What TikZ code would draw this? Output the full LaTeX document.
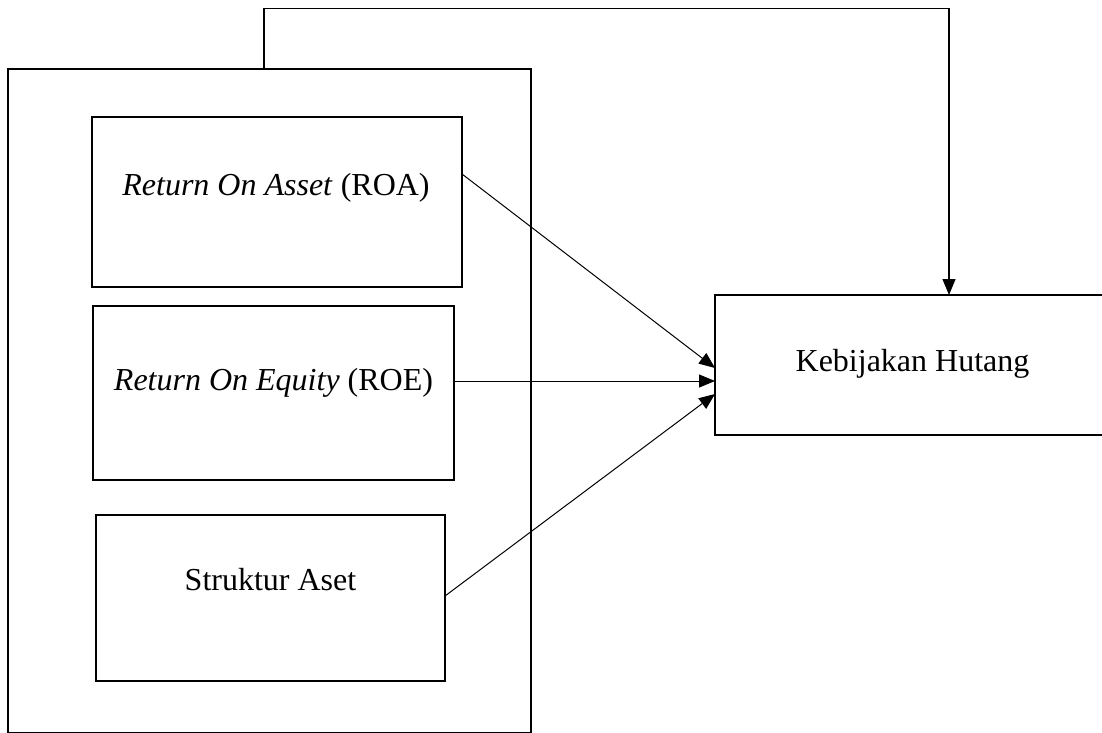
\documentclass[tikz,border=0pt]{standalone}
\usepackage{fontspec}
\setmainfont{Liberation Serif}
\usetikzlibrary{arrows.meta}

\begin{document}
\begin{tikzpicture}[x=1pt, y=-1pt, >={Triangle[length=16pt, width=13pt]}, line join=miter, every node/.style={font=\fontsize{32}{38}\selectfont}, box/.style={draw, rectangle, inner sep=0pt, outer sep=0pt}]
			
			\useasboundingbox (0,0) rectangle (1102,732);
			
			\node[box, line width=2.5pt, minimum width=523pt, minimum height=664pt] (outer) at (269.5,401) {};
			
			\node[box, line width=2pt, minimum width=370pt, minimum height=170pt] (roa) at (277,202) {};
			\node[anchor=base] (roatxt) at (276,195) {\textit{Return On Asset} (ROA)};
			
			\node[box, line width=2.6pt, minimum width=361pt, minimum height=174pt] (roe) at (273.5,393) {};
			\node[anchor=base] (roetxt) at (273.5,390) {\textit{Return On Equity} (ROE)};
			
			\node[box, line width=1.2pt, minimum width=349pt, minimum height=166pt] (aset) at (270.5,598) {};
			\node[anchor=base] (asettxt) at (270.5,590) {Struktur Aset};
			
			\node[box, line width=1.8pt, minimum width=395pt, minimum height=140pt] (kh) at (912.5,365) {};
			\node[anchor=base] (khtxt) at (912.5,371) {Kebijakan Hutang};
			
			\coordinate (top) at (600,8.5);
			
			\draw[->, line width=1pt] ([yshift=28pt]roa.east) -- ([yshift=-3pt]kh.west);
			\draw[->, line width=1pt] ([yshift=12pt]roe.east) -- ([yshift=-16pt]kh.west);
			\draw[->, line width=1pt] ([yshift=2pt]aset.east) -- ([yshift=-29pt]kh.west);
			
			\draw[->, line width=1.2pt] ([xshift=-5.5pt]outer.north) |- (top) -| ([xshift=36.5pt]kh.north);
			
		\end{tikzpicture}
\end{document}
